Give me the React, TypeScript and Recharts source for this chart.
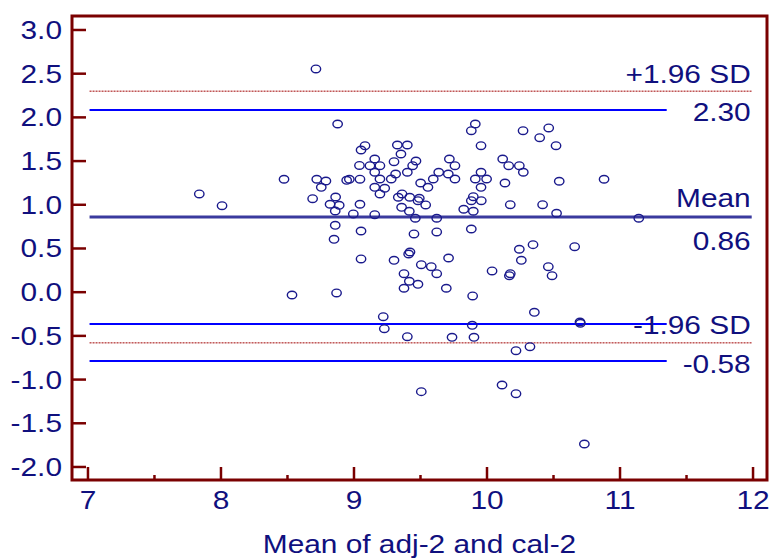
import React from "react";
import { ScatterChart, Scatter, XAxis, YAxis, ReferenceLine, ReferenceArea } from "recharts";

// Mean of adj-2 and cal-2 (x) and difference (y)
const meanValues = [
  8.714, 8.877, 9.053, 9.083, 9.041, 8.474, 8.72, 8.789, 8.754, 8.945,
  8.965, 9.045, 7.837, 8.689, 8.862, 8.82, 8.889, 8.859, 8.008, 8.995,
  9.045, 8.859, 8.85, 9.053, 9.053, 8.534, 8.869, 9.912, 9.882, 10.271,
  10.464, 10.396, 10.519, 9.955, 9.326, 9.401, 9.353, 9.156, 9.301, 9.12,
  9.195, 9.466, 9.441, 9.717, 9.759, 10.118, 10.163, 10.243, 10.273, 9.955,
  9.156, 9.313, 9.401, 9.637, 9.709, 9.195, 9.28, 9.596, 9.759, 9.912,
  9.997, 9.955, 9.501, 9.556, 9.156, 9.231, 9.195, 10.135, 10.543, 9.361,
  9.333, 9.419, 9.491, 9.481, 9.539, 9.358, 9.416, 9.897, 9.882, 9.957,
  9.825, 9.897, 10.175, 10.418, 10.523, 9.156, 9.461, 9.622, 9.451, 9.622,
  9.882, 10.243, 10.346, 10.258, 10.461, 10.489, 9.421, 9.411, 9.301, 9.711,
  9.506, 9.581, 9.622, 9.376, 9.416, 9.481, 9.376, 9.694, 10.038, 10.175,
  10.168, 9.892, 10.88, 11.141, 10.659, 9.22, 9.228, 9.401, 10.356, 9.889,
  10.699, 10.702, 9.737, 9.902, 10.218, 10.323, 9.506, 10.113, 10.218, 10.732,
];
const diffValues = [
  2.554, 1.924, 1.627, 1.676, 1.45, 1.292, 1.292, 1.272, 1.2, 1.28,
  1.292, 1.293, 1.124, 1.07, 1.089, 1.006, 0.994, 0.929, 0.99, 0.895,
  1.006, 0.765, 0.605, 0.7, 0.38, -0.032, -0.009, 1.924, 1.848, 1.848,
  1.879, 1.768, 1.676, 1.676, 1.684, 1.684, 1.581, 1.524, 1.493, 1.447,
  1.447, 1.501, 1.447, 1.524, 1.447, 1.524, 1.447, 1.447, 1.372, 1.372,
  1.372, 1.352, 1.372, 1.372, 1.352, 1.295, 1.295, 1.295, 1.295, 1.295,
  1.295, 1.2, 1.249, 1.2, 1.2, 1.189, 1.124, 1.249, 1.269, 1.124,
  1.086, 1.086, 1.074, 1.047, 0.998, 0.971, 0.926, 1.093, 1.047, 1.047,
  0.949, 0.926, 1.001, 1.001, 0.903, 0.887, 0.846, 0.846, 0.666, 0.689,
  0.723, 0.491, 0.544, 0.365, 0.292, 0.189, 0.46, 0.437, 0.365, 0.391,
  0.315, 0.292, 0.212, 0.212, 0.125, 0.09, 0.045, 0.045, 0.243, 0.212,
  0.189, -0.043, 1.292, 0.846, 0.521, -0.28, -0.418, -0.509, -0.23, -0.379,
  -0.341, -0.356, -0.516, -0.516, -0.669, -0.624, -1.138, -1.062, -1.161, -1.737,
];

const xTicks = [7, 7.5, 8, 8.5, 9, 9.5, 10, 10.5, 11, 11.5, 12];
const yTicks = [-2, -1.5, -1, -0.5, 0, 0.5, 1, 1.5, 2, 2.5, 3];
const xDomain = [6.88, 12.105];
const yDomain = [-2.149, 3.16];

const meanDiff = 0.86;
const upperLimit = 2.3;
const lowerLimit = -0.58;
const ciLimits = [2.085, -0.365, -0.786];
const lineStart = 7.012;
const ciEnd = 11.351;
const limitEnd = 11.99;

const upperLabels = ["+1.96 SD", "2.30"];
const meanLabels = ["Mean", "0.86"];
const lowerLabels = ["-1.96 SD", "-0.58"];
const xTitle = "Mean of adj-2 and cal-2";

const data = meanValues.map((m, i) => ({ x: m, y: diffValues[i] }));

const FRAME = "#7a0000";
const NAVY = "#10107e";
const FONT = "'Liberation Sans', Arial, sans-serif";
const SX = 1.17;
const FS = 25.5;

const XTick = (props: any) => {
  const { x, y, payload } = props;
  const v = payload.value;
  const major = Number.isInteger(v);
  return (
    <g>
      <line x1={x} x2={x} y1={y} y2={y - (major ? 13 : 5)} stroke={FRAME} strokeWidth={2.5} />
      {major && (
        <text
          transform={`translate(${x},${y + 29}) scale(${SX},1)`}
          textAnchor="middle"
          fontFamily={FONT}
          fontSize={FS}
          fill={NAVY}
        >
          {v}
        </text>
      )}
    </g>
  );
};

const YTick = (props: any) => {
  const { x, y, payload } = props;
  const v = payload.value;
  return (
    <g>
      <line x1={x} x2={x + 14} y1={y} y2={y} stroke={FRAME} strokeWidth={2.5} />
      <text
        transform={`translate(${x - 10},${y + 9}) scale(${SX},1)`}
        textAnchor="end"
        fontFamily={FONT}
        fontSize={FS}
        fill={NAVY}
      >
        {v.toFixed(1)}
      </text>
    </g>
  );
};

const SideLabel = (props: any) => {
  const { viewBox, above, below, aboveGap, belowGap } = props;
  if (!viewBox) return null;
  const right = viewBox.x + viewBox.width - 1;
  const y = viewBox.y;
  return (
    <g>
      <text
        transform={`translate(${right},${y - aboveGap}) scale(${SX},1)`}
        textAnchor="end"
        fontFamily={FONT}
        fontSize={FS}
        fill={NAVY}
      >
        {above}
      </text>
      <text
        transform={`translate(${right},${y + belowGap}) scale(${SX},1)`}
        textAnchor="end"
        fontFamily={FONT}
        fontSize={FS}
        fill={NAVY}
      >
        {below}
      </text>
    </g>
  );
};

const AxisTitle = (props: any) => {
  const { viewBox } = props;
  if (!viewBox) return null;
  return (
    <text
      transform={`translate(${viewBox.x + viewBox.width / 2},${viewBox.y + 73}) scale(${SX},1)`}
      textAnchor="middle"
      fontFamily={FONT}
      fontSize={FS}
      fill={NAVY}
    >
      {xTitle}
    </text>
  );
};

const Ring = (props: any) => {
  const { cx, cy } = props;
  return <ellipse cx={cx} cy={cy} rx={4.7} ry={3.8} fill="none" stroke="#1a1a8c" strokeWidth={1.4} />;
};

export default function App() {
  return (
    <div style={{ width: 770, height: 558, background: "#fff" }}>
      <style>{"html,body{margin:0;padding:0;overflow:hidden;}"}</style>
      <ScatterChart width={770} height={558} margin={{ top: 16, right: 3, bottom: 8, left: 12 }}>
        <XAxis
          type="number"
          dataKey="x"
          domain={xDomain}
          ticks={xTicks}
          allowDataOverflow
          axisLine={false}
          tickLine={false}
          tickSize={0}
          tickMargin={0}
          height={70}
          tick={<XTick />}
          interval={0}
          label={<AxisTitle />}
        />
        <YAxis
          type="number"
          dataKey="y"
          domain={yDomain}
          ticks={yTicks}
          allowDataOverflow
          axisLine={false}
          tickLine={false}
          tickSize={0}
          tickMargin={0}
          width={60}
          tick={<YTick />}
          interval={0}
        />
        <ReferenceArea
          x1={xDomain[0]}
          x2={xDomain[1]}
          y1={yDomain[0]}
          y2={yDomain[1]}
          fill="none"
          stroke={FRAME}
          strokeWidth={3}
          ifOverflow="visible"
        />
        {ciLimits.map((v, i) => (
          <ReferenceLine
            key={"ci" + i}
            segment={[{ x: lineStart, y: v }, { x: ciEnd, y: v }]}
            stroke="#0000ff"
            strokeWidth={2}
            ifOverflow="visible"
          />
        ))}
        <ReferenceLine
          segment={[{ x: lineStart, y: upperLimit }, { x: limitEnd, y: upperLimit }]}
          stroke="#a00000"
          strokeWidth={1}
          strokeDasharray="2 1"
          ifOverflow="visible"
          label={<SideLabel above={upperLabels[0]} below={upperLabels[1]} aboveGap={8} belowGap={30} />}
        />
        <ReferenceLine
          segment={[{ x: lineStart, y: lowerLimit }, { x: limitEnd, y: lowerLimit }]}
          stroke="#a00000"
          strokeWidth={1}
          strokeDasharray="2 1"
          ifOverflow="visible"
          label={<SideLabel above={lowerLabels[0]} below={lowerLabels[1]} aboveGap={9} belowGap={30} />}
        />
        <ReferenceLine
          segment={[{ x: lineStart, y: meanDiff }, { x: limitEnd, y: meanDiff }]}
          stroke="#3a3a9e"
          strokeWidth={3}
          ifOverflow="visible"
          label={<SideLabel above={meanLabels[0]} below={meanLabels[1]} aboveGap={10} belowGap={33} />}
        />
        <Scatter data={data} shape={<Ring />} isAnimationActive={false} />
      </ScatterChart>
    </div>
  );
}
